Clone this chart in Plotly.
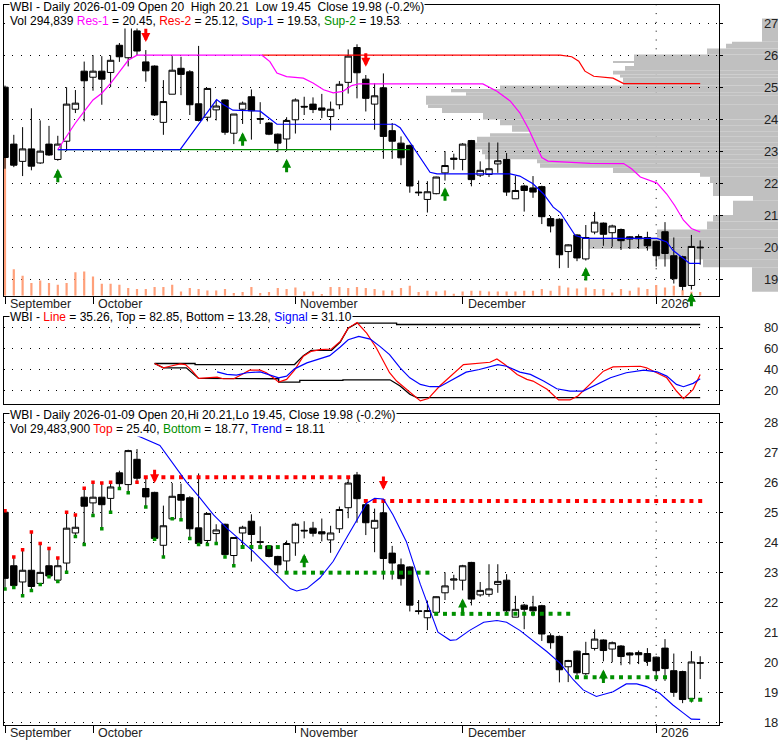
import plotly.graph_objects as go
import pandas as pd

# ---------------- data ----------------
holidays = ["2025-11-27", "2025-12-25", "2026-01-01"]
dates = [d for d in pd.bdate_range("2025-09-17", "2026-01-09")
         if d.strftime("%Y-%m-%d") not in holidays]

opens = [25.00, 23.22, 22.68, 23.07, 22.63, 23.22, 22.74, 23.31, 24.31, 25.50,
         25.31, 25.50, 25.46, 26.31, 25.92, 26.76, 25.79, 25.66, 23.90, 24.78,
         25.59, 25.48, 24.48, 24.06, 24.29, 24.60, 23.56, 24.31, 24.70, 24.02,
         23.88, 23.53, 23.38, 23.98, 24.40, 24.47, 24.35, 24.08, 24.45, 25.15,
         26.24, 25.25, 24.47, 24.98, 23.64, 23.25, 23.18, 21.72, 21.49, 21.67,
         22.32, 22.74, 22.74, 23.33, 22.25, 22.27, 22.60, 22.74, 21.51, 21.91,
         21.85, 21.89, 20.89, 20.87, 19.86, 20.38, 19.63, 20.47, 20.75, 20.45,
         20.55, 20.32, 20.33, 20.30, 20.18, 20.48, 19.73, 19.70, 18.80, 20.00]
highs = [25.05, 23.51, 23.75, 24.34, 23.96, 23.79, 23.48, 25.00, 24.91, 25.80,
         26.00, 25.97, 26.00, 26.38, 27.08, 27.10, 26.16, 25.68, 25.22, 25.97,
         25.95, 25.53, 26.29, 24.97, 24.60, 24.62, 24.16, 24.55, 24.93, 24.53,
         23.91, 23.55, 24.06, 24.65, 24.70, 24.68, 24.79, 24.55, 25.19, 26.18,
         26.34, 25.38, 25.12, 25.43, 23.88, 23.46, 23.20, 22.08, 22.06, 22.20,
         23.00, 22.92, 23.25, 23.35, 22.68, 23.27, 23.27, 22.94, 22.22, 21.95,
         22.22, 21.92, 20.97, 20.90, 20.09, 20.40, 20.69, 21.10, 20.77, 20.70,
         20.58, 20.34, 20.40, 20.48, 20.20, 20.78, 20.30, 19.73, 20.38, 20.21]
lows = [22.45, 22.50, 22.22, 22.40, 22.60, 22.85, 22.70, 23.00, 24.19, 23.93,
        24.89, 24.45, 25.00, 25.79, 25.65, 26.00, 25.17, 24.10, 23.51, 24.78,
        24.75, 24.13, 23.93, 23.93, 23.96, 23.51, 23.22, 23.85, 23.36, 23.85,
        23.50, 22.97, 23.01, 23.55, 24.13, 24.19, 24.03, 23.65, 24.31, 24.80,
        24.65, 24.24, 23.67, 22.76, 22.76, 22.56, 21.70, 21.60, 21.08, 21.65,
        22.08, 22.42, 22.40, 21.90, 22.19, 22.19, 22.32, 21.60, 21.51, 21.11,
        21.54, 20.72, 20.46, 19.34, 19.35, 19.56, 19.58, 20.40, 20.04, 20.01,
        19.91, 19.94, 19.95, 19.89, 19.39, 19.39, 18.86, 18.65, 18.67, 19.45]
closes = [22.80, 22.56, 23.07, 22.53, 23.00, 22.88, 23.22, 24.47, 24.50, 25.20,
          25.50, 25.25, 25.84, 25.95, 27.05, 26.13, 25.51, 24.13, 24.55, 25.53,
          25.40, 24.45, 23.96, 24.96, 24.41, 23.59, 24.16, 24.50, 24.26, 24.00,
          23.53, 23.25, 23.96, 24.60, 24.38, 24.30, 24.28, 24.31, 25.09, 25.97,
          25.45, 24.65, 24.73, 23.46, 23.31, 22.79, 21.91, 21.70, 21.73, 22.19,
          22.55, 22.78, 23.22, 22.11, 22.40, 22.45, 22.70, 21.72, 21.77, 21.77,
          21.72, 20.95, 20.66, 19.76, 20.07, 19.66, 20.30, 20.78, 20.40, 20.66,
          20.20, 20.25, 20.26, 20.04, 19.73, 19.80, 19.01, 18.77, 20.02, 19.98]
volumes = [11140000, 2136000, 1600000, 1016000, 1224000, 1016000, 880000, 1016000, 1896000, 1944000,
           1544000, 960000, 960000, 880000, 616000, 536000, 536000, 696000, 696000, 880000,
           344000, 616000, 536000, 424000, 424000, 536000, 216000, 296000, 696000, 216000,
           296000, 616000, 536000, 664000, 344000, 344000, 136000, 696000, 696000, 616000,
           696000, 616000, 536000, 424000, 424000, 616000, 800000, 296000, 400000, 344000,
           424000, 160000, 344000, 400000, 400000, 344000, 344000, 344000, 344000, 400000,
           400000, 536000, 400000, 800000, 664000, 584000, 664000, 536000, 536000, 264000,
           536000, 400000, 664000, 536000, 856000, 664000, 800000, 456000, 320000, 294839]

# volume-at-price profile (price bins, thousand shares)
prof_lo = [18.60, 19.37, 19.62, 19.95, 20.30, 20.55, 20.80, 21.00, 21.45, 21.60,
           22.00, 22.20, 22.32, 22.48, 22.62, 22.75, 22.90, 23.06, 23.14, 23.26,
           23.45, 23.56, 23.61, 23.81, 23.99, 24.19, 24.35, 24.45, 24.73, 24.84,
           24.94, 25.05, 25.30, 25.40, 25.51, 25.66, 25.76, 25.81, 26.02, 26.21,
           26.36, 26.42]
prof_hi = prof_lo[1:] + [27.15]
prof_vol = [26, 75, 120, 203, 121, 71, 65, 45, 25, 65,
            68, 78, 165, 238, 241, 293, 296, 303, 311, 301,
            288, 248, 266, 278, 295, 336, 350, 352, 312, 327,
            278, 155, 158, 165, 153, 144, 165, 144, 71, 52,
            46, 16]

# support / resistance lines (day index, price)
res1_x = [6, 7, 8, 9, 10, 11, 12, 13, 14, 15, 29.2, 30.1, 30.9, 32.0, 33.9, 35.0, 36.2, 37.3,
          38.4, 39.4, 40.2, 54.3, 55.9, 57.4, 58.5, 59.5, 60.4, 61.0, 61.7, 66.5, 70.3, 71.2,
          72.2, 74.1, 75.2, 76.1, 77.1, 78.0, 79.0]
res1_y = [23.05, 23.46, 23.88, 24.24, 24.60, 24.81, 25.12, 25.48, 25.84, 26.00, 26.00, 25.80,
          25.44, 25.33, 25.28, 25.13, 24.92, 24.82, 24.87, 25.05, 25.10, 25.10, 24.87, 24.57,
          24.20, 23.69, 23.17, 22.80, 22.69, 22.62, 22.61, 22.45, 22.19, 22.00, 21.66, 21.30,
          20.84, 20.58, 20.47]
res2_x = [29.2, 63.1, 64.4, 65.2, 65.9, 66.9, 69.1, 70.3, 79.0]
res2_y = [26.00, 26.00, 25.95, 25.81, 25.50, 25.34, 25.28, 25.11, 25.11]
sup1_x = [6, 19.9, 24.05, 24.8, 25.9, 29.0, 30.9, 44.3, 44.9, 46.0, 47.2, 48.3, 49.1, 57.4,
          58.5, 60.0, 61.2, 62.3, 63.1, 63.8, 64.8, 65.9, 74.1, 75.2, 75.9, 77.1, 77.8, 79.0]
sup1_y = [23.05, 23.05, 24.61, 24.46, 24.28, 24.25, 23.84, 23.84, 23.73, 23.27, 22.76, 22.34,
          22.29, 22.29, 22.22, 21.98, 21.66, 21.25, 21.08, 20.77, 20.36, 20.27, 20.27, 20.16,
          19.90, 19.64, 19.49, 19.49]
sup2_x = [6, 46]
sup2_y = [23.05, 23.05]

# signal arrows (day index, price of arrow tip)
top_up_idx = [6, 27, 32, 50, 66, 78]
top_up_px = [22.45, 23.59, 22.76, 21.87, 19.38, 18.57]
top_dn_idx = [16, 41]
top_dn_px = [26.41, 25.64]
bot_up_idx = [34, 52, 68]
bot_up_px = [23.62, 22.13, 19.77]
bot_dn_idx = [17, 43]
bot_dn_px = [25.96, 25.74]

# oscillator panel
line_x = [17.0, 18.0, 18.75, 19.9, 20.5, 21.2, 22.0, 23.3, 24.1, 24.8, 26.0, 26.7, 27.8, 29.0,
          29.7, 30.5, 31.1, 32.0, 32.9, 33.9, 34.8, 35.8, 37.1, 38.1, 39.0, 40.0, 41.1, 42.2,
          43.7, 44.5, 45.6, 47.2, 48.1, 49.4, 52.1, 53.6, 55.1, 55.9, 56.8, 58.2, 59.3, 60.0,
          61.6, 62.9, 64.2, 65.1, 66.5, 68.0, 69.1, 70.6, 72.2, 72.9, 73.7, 75.2, 76.3, 77.1,
          78.2, 79.0]
line_y = [45.7, 41.6, 43.1, 45.4, 44.7, 39.4, 31.5, 32.1, 32.8, 31.2, 31.2, 34.3, 39.4, 39.4,
          36.9, 32.1, 28.0, 30.6, 39.4, 52.6, 57.3, 58.9, 59.5, 66.8, 79.4, 84.7, 74.6, 60.5,
          36.9, 29.0, 21.1, 10.1, 12.3, 24.3, 44.7, 45.7, 46.9, 50.1, 44.7, 35.3, 30.6, 29.0,
          21.1, 11.0, 11.0, 14.8, 25.8, 38.4, 42.5, 43.1, 43.1, 41.6, 38.4, 32.1, 19.5, 12.3,
          21.1, 35.26]
signal_x = [24.1, 25.2, 26.3, 27.5, 29.0, 30.1, 31.1, 32.0, 32.9, 34.3, 35.8, 36.9, 38.1, 39.0,
            40.2, 41.5, 42.6, 43.7, 44.9, 46.0, 47.2, 48.3, 49.4, 50.9, 52.4, 53.9, 55.1, 56.0,
            57.0, 58.5, 59.7, 61.2, 62.7, 64.2, 65.7, 67.2, 68.8, 70.6, 72.6, 74.1, 75.2, 76.3,
            77.1, 78.2, 79.0]
signal_y = [37.8, 35.3, 34.6, 36.9, 37.8, 34.6, 32.1, 33.7, 40.6, 46.3, 50.4, 53.2, 61.4, 68.3,
            71.5, 69.0, 62.0, 54.2, 41.6, 32.1, 25.8, 23.6, 23.6, 30.6, 37.5, 40.0, 42.5, 44.7,
            43.1, 37.5, 35.3, 29.0, 21.7, 19.5, 19.5, 25.8, 32.1, 36.9, 39.4, 37.8, 33.7, 25.8,
            23.6, 26.8, 31.1]
osc_top_x = [17.0, 21.6, 21.6, 32.9, 33.9, 34.8, 37.1, 38.1, 39.0, 40.0, 44.5, 44.5, 79.0]
osc_top_y = [45.7, 45.7, 44.7, 44.7, 53.2, 58.3, 58.3, 66.1, 79.4, 84.2, 84.2, 82.85, 82.85]
osc_bot_x = [17.0, 18.0, 20.6, 22.0, 31.1, 31.1, 33.5, 33.5, 38.4, 38.4, 43.75, 44.9, 46.0, 46.8, 79.0]
osc_bot_y = [45.7, 41.6, 41.6, 31.5, 31.2, 28.0, 28.0, 29.6, 29.6, 30.2, 30.2, 24.3, 16.4, 13.28, 13.28]

# lower panel: trend curve, top/bottom levels, marked highs/lows
trend_x = [14.5, 15.0, 17.6, 19.1, 20.6, 22.2, 23.7, 25.2, 26.7, 28.2, 29.7, 31.3, 32.4, 33.15,
           34.3, 35.8, 37.3, 38.8, 40.2, 41.1, 42.0, 43.0, 44.1, 45.6, 47.2, 48.3, 49.2, 50.6,
           51.3, 52.8, 54.4, 55.9, 57.0, 58.5, 60.0, 61.6, 63.1, 64.6, 65.7, 67.2, 69.1, 70.6,
           71.8, 72.9, 74.4, 75.9, 77.1, 78.0, 79.0]
trend_y = [27.70, 27.55, 27.22, 26.62, 26.01, 25.46, 24.91, 24.47, 24.09, 23.70, 23.26, 22.77,
           22.46, 22.38, 22.46, 22.82, 23.37, 24.14, 24.86, 25.30, 25.46, 25.44, 24.91, 24.03,
           22.60, 21.73, 21.01, 20.74, 20.76, 21.07, 21.34, 21.40, 21.34, 21.07, 20.74, 20.36,
           19.97, 19.42, 19.09, 18.87, 19.03, 19.29, 19.29, 19.20, 18.98, 18.59, 18.32, 18.12,
           18.11]
toplvl_start = [16, 41]
toplvl_end = [39, 79]
toplvl_val = [26.16, 25.37]
botlvl_start = [27, 32, 49, 65, 78]
botlvl_end = [31, 48, 64, 75, 79]
botlvl_val = [23.84, 22.99, 21.62, 19.51, 18.76]
hi_mark_idx = list(range(0, 13))
lo_mark_idx = list(range(0, 15)) + list(range(16, 27))
lo_red_idx = [15]

# header values
res1_val, res2_val, sup1_val, sup2_val = 20.45, 25.12, 19.53, 19.53
osc_line_val, osc_top_val, osc_bot_val, osc_sig_val = 35.26, 82.85, 13.28, 31.10
low_top_val, low_bot_val, low_trend_val = 25.40, 18.77, 18.11
low_vol_text = "29,483,900"

# ---------------- layout helpers ----------------
W, H = 780, 745
FONT = "Liberation Sans, Arial, sans-serif"
idx = list(range(len(dates)))


def ydom(top_px, bot_px):
    return [1 - bot_px / H, 1 - top_px / H]


XL, XR_PX = 3.5, 719.3
XDOM = [XL / W, XR_PX / W]
XRANGE = [(XL - 5) / 8.8, (XR_PX - 5) / 8.8]
TOP_DOM = ydom(5, 297.7)
MID_DOM = ydom(318.7, 406.3)
BOT_DOM = ydom(416.7, 730)
TOP_RANGE = [18.48, 27.57]
MID_RANGE = [7.56, 90.4]
BOT_RANGE = [17.92, 28.27]
DOT = "1px,7.8px"

month_idx, month_txt = [], []
for i, d in enumerate(dates):
    if i == 0 or d.month != dates[i - 1].month:
        month_idx.append(i)
        month_txt.append(str(d.year) if (i > 0 and d.year != dates[i - 1].year) else d.strftime("%B"))
year_idx = [i for i in range(1, len(dates)) if dates[i].year != dates[i - 1].year]

fig = go.Figure()

# volume profile (behind everything)
fig.add_trace(go.Bar(
    x=prof_vol, y=[(a + b) / 2 for a, b in zip(prof_lo, prof_hi)],
    width=[b - a for a, b in zip(prof_lo, prof_hi)], orientation="h",
    xaxis="x", yaxis="y", marker=dict(color="#C0C0C0", line=dict(width=0)), hoverinfo="skip"))

# volume bars
fig.add_trace(go.Bar(x=idx, y=volumes, width=0.25, xaxis="x2", yaxis="y2",
                     marker=dict(color="#FFA07A", line=dict(width=0))))

# S/R lines
fig.add_trace(go.Scatter(x=sup2_x, y=sup2_y, mode="lines", line=dict(color="#009000", width=1.3),
                         xaxis="x2", yaxis="y3"))
fig.add_trace(go.Scatter(x=sup1_x, y=sup1_y, mode="lines", line=dict(color="#0000FF", width=1.2),
                         xaxis="x2", yaxis="y3"))
fig.add_trace(go.Scatter(x=res2_x, y=res2_y, mode="lines", line=dict(color="#FF0000", width=1.2),
                         xaxis="x2", yaxis="y3"))
fig.add_trace(go.Scatter(x=res1_x, y=res1_y, mode="lines", line=dict(color="#FF00FF", width=1.2),
                         xaxis="x2", yaxis="y3"))

candle_style = dict(
    increasing=dict(line=dict(color="black", width=1), fillcolor="white"),
    decreasing=dict(line=dict(color="black", width=1), fillcolor="black"),
    whiskerwidth=0, hoverinfo="skip")
fig.add_trace(go.Candlestick(x=idx, open=opens, high=highs, low=lows, close=closes,
                             xaxis="x2", yaxis="y3", **candle_style))

# oscillator
fig.add_trace(go.Scatter(x=osc_top_x, y=osc_top_y, mode="lines", line=dict(color="black", width=1.3),
                         xaxis="x3", yaxis="y4"))
fig.add_trace(go.Scatter(x=osc_bot_x, y=osc_bot_y, mode="lines", line=dict(color="black", width=1.3),
                         xaxis="x3", yaxis="y4"))
fig.add_trace(go.Scatter(x=line_x, y=line_y, mode="lines", line=dict(color="#FF0000", width=1.2),
                         xaxis="x3", yaxis="y4"))
fig.add_trace(go.Scatter(x=signal_x, y=signal_y, mode="lines", line=dict(color="#0000FF", width=1.2),
                         xaxis="x3", yaxis="y4"))

# lower panel
tx, ty = [], []
for s, e, v in zip(toplvl_start, toplvl_end, toplvl_val):
    tx += list(range(s, e + 1)); ty += [v] * (e - s + 1)
bx, by = [], []
for s, e, v in zip(botlvl_start, botlvl_end, botlvl_val):
    bx += list(range(s, e + 1)); by += [v] * (e - s + 1)
fig.add_trace(go.Scatter(x=tx, y=ty, mode="markers", marker=dict(symbol="square", size=4, color="#FF0000"),
                         xaxis="x4", yaxis="y5"))
fig.add_trace(go.Scatter(x=bx, y=by, mode="markers", marker=dict(symbol="square", size=4, color="#009000"),
                         xaxis="x4", yaxis="y5"))
fig.add_trace(go.Scatter(x=trend_x, y=trend_y, mode="lines", line=dict(color="#0000FF", width=1.1),
                         xaxis="x4", yaxis="y5"))
fig.add_trace(go.Candlestick(x=idx, open=opens, high=highs, low=lows, close=closes,
                             xaxis="x4", yaxis="y5", **candle_style))
fig.add_trace(go.Scatter(x=hi_mark_idx, y=[highs[i] for i in hi_mark_idx], mode="markers",
                         marker=dict(symbol="square", size=3.5, color="#FF0000"), xaxis="x4", yaxis="y5"))
fig.add_trace(go.Scatter(x=lo_mark_idx, y=[lows[i] for i in lo_mark_idx], mode="markers",
                         marker=dict(symbol="square", size=3.5, color="#009000"), xaxis="x4", yaxis="y5"))
fig.add_trace(go.Scatter(x=lo_red_idx, y=[lows[i] for i in lo_red_idx], mode="markers",
                         marker=dict(symbol="square", size=3.5, color="#FF0000"), xaxis="x4", yaxis="y5"))

# ---------------- annotations ----------------
ann = []


def arrow(xr, yr, x, y, color, up):
    return dict(x=x, y=y, xref=xr, yref=yr, text="", showarrow=True, arrowhead=2,
                arrowsize=0.6, arrowwidth=3, arrowcolor=color, ax=0, ay=15 if up else -15, standoff=0)


for i, p in zip(top_up_idx, top_up_px):
    ann.append(arrow("x2", "y3", i, p, "#008800", True))
for i, p in zip(top_dn_idx, top_dn_px):
    ann.append(arrow("x2", "y3", i, p, "#FF0000", False))
for i, p in zip(bot_up_idx, bot_up_px):
    ann.append(arrow("x4", "y5", i, p, "#008800", True))
for i, p in zip(bot_dn_idx, bot_dn_px):
    ann.append(arrow("x4", "y5", i, p, "#FF0000", False))


def head(text, x_px, y_px):
    return dict(xref="paper", yref="paper", x=x_px / W, y=1 - y_px / H, xanchor="left", yanchor="middle",
                text=text, showarrow=False, bgcolor="white", borderpad=0,
                font=dict(family=FONT, size=12, color="black"))


def c(t, col):
    return f'<span style="color:{col}">{t}</span>'


NB = "\u00a0"
o, h, l, cl = opens[-1], highs[-1], lows[-1], closes[-1]
pct = (closes[-1] / closes[-2] - 1) * 100
ann.append(head(f"WBI - Daily {dates[-1]:%Y-%m-%d} Open {o:g}{NB}{NB}High {h:.2f}{NB}{NB}Low {l:.2f}"
                f"{NB}{NB}Close {cl:.2f} ({pct:.1f}%)", 9, 7))
ann.append(head(f"Vol {volumes[-1]:,} {c('Res-1', '#FF00FF')} = {res1_val:.2f}, {c('Res-2', '#FF0000')} = "
                f"{res2_val:.2f}, {c('Sup-1', '#0000FF')} = {sup1_val:.2f}, {c('Sup-2', '#009000')} = {sup2_val:.2f}",
                9, 21))
ann.append(head(f"WBI - {c('Line', '#FF0000')} = {osc_line_val:.2f}, Top = {osc_top_val:.2f}, Bottom = "
                f"{osc_bot_val:.2f}, {c('Signal', '#0000FF')} = {osc_sig_val:.2f}", 9, 319.5))
ann.append(head(f"WBI - Daily {dates[-1]:%Y-%m-%d} Open {o:g},Hi {h:.2f},Lo {l:.2f}, Close {cl:.2f} ({pct:.1f}%)",
                9, 418))
ann.append(head(f"Vol {low_vol_text} {c('Top', '#FF0000')} = {low_top_val:.2f}, {c('Bottom', '#009000')} = "
                f"{low_bot_val:.2f}, {c('Trend', '#0000FF')} = {low_trend_val:.2f}", 9, 431.5))

for xr, ypx in (("x2", 306), ("x4", 738)):
    for i, t in zip(month_idx, month_txt):
        ann.append(dict(xref=xr, yref="paper", x=i, y=1 - ypx / H, xanchor="left", yanchor="middle",
                        xshift=3, text=t, showarrow=False, font=dict(family=FONT, size=12.5, color="#222")))

shapes = []
for yi in year_idx:
    for xr, yr in (("x2", "y2 domain"), ("x4", "y5 domain")):
        shapes.append(dict(type="line", xref=xr, yref=yr, x0=yi, x1=yi, y0=0, y1=1, layer="below",
                           line=dict(color="black", width=1, dash=DOT)))

tickfont = dict(family=FONT, size=13, color="#222")


def xax(anchor, ticks):
    d = dict(domain=XDOM, range=XRANGE, anchor=anchor, showgrid=False, zeroline=False,
             showline=True, mirror=True, linecolor="black", linewidth=1,
             showticklabels=False, rangeslider=dict(visible=False))
    if ticks:
        d.update(tickmode="array", tickvals=month_idx, ticks="outside", ticklen=7, tickcolor="black")
    else:
        d.update(ticks="")
    return d


def yax(anchor, dom, rng, **kw):
    d = dict(domain=dom, range=rng, anchor=anchor, side="right", showgrid=True, gridcolor="black",
             griddash=DOT, gridwidth=1, zeroline=False, showline=True, mirror=True, linecolor="black",
             linewidth=1, ticks="outside", ticklen=3, tickcolor="black", tickfont=tickfont,
             ticklabelstandoff=38)
    d.update(kw)
    return d


fig.update_layout(
    width=W, height=H, autosize=False, margin=dict(l=0, r=0, t=0, b=0, pad=0),
    paper_bgcolor="white", plot_bgcolor="rgba(0,0,0,0)", showlegend=False,
    boxgap=0.27, boxgroupgap=0, barmode="overlay",
    font=dict(family=FONT, size=12, color="black"),
    xaxis=dict(domain=[XL / W, 778 / W], range=[778 - XL, 0], visible=False, anchor="y", fixedrange=True),
    yaxis=dict(domain=TOP_DOM, range=TOP_RANGE, visible=False, anchor="x"),
    xaxis2=xax("y2", True),
    yaxis2=dict(domain=TOP_DOM, range=[0, 23.4e6], visible=False, anchor="x2"),
    yaxis3=yax("x2", TOP_DOM, TOP_RANGE, overlaying="y2", tickmode="linear", tick0=0, dtick=1),
    xaxis3=xax("y4", False),
    yaxis4=yax("x3", MID_DOM, MID_RANGE, tickmode="array", tickvals=[20, 40, 60, 80]),
    xaxis4=xax("y5", True),
    yaxis5=yax("x4", BOT_DOM, BOT_RANGE, tickmode="linear", tick0=0, dtick=1),
    annotations=ann, shapes=shapes,
)

fig.write_html("out.html", config={"displayModeBar": False},
               post_script="document.body.style.margin='0px';document.body.style.overflow='hidden';")
